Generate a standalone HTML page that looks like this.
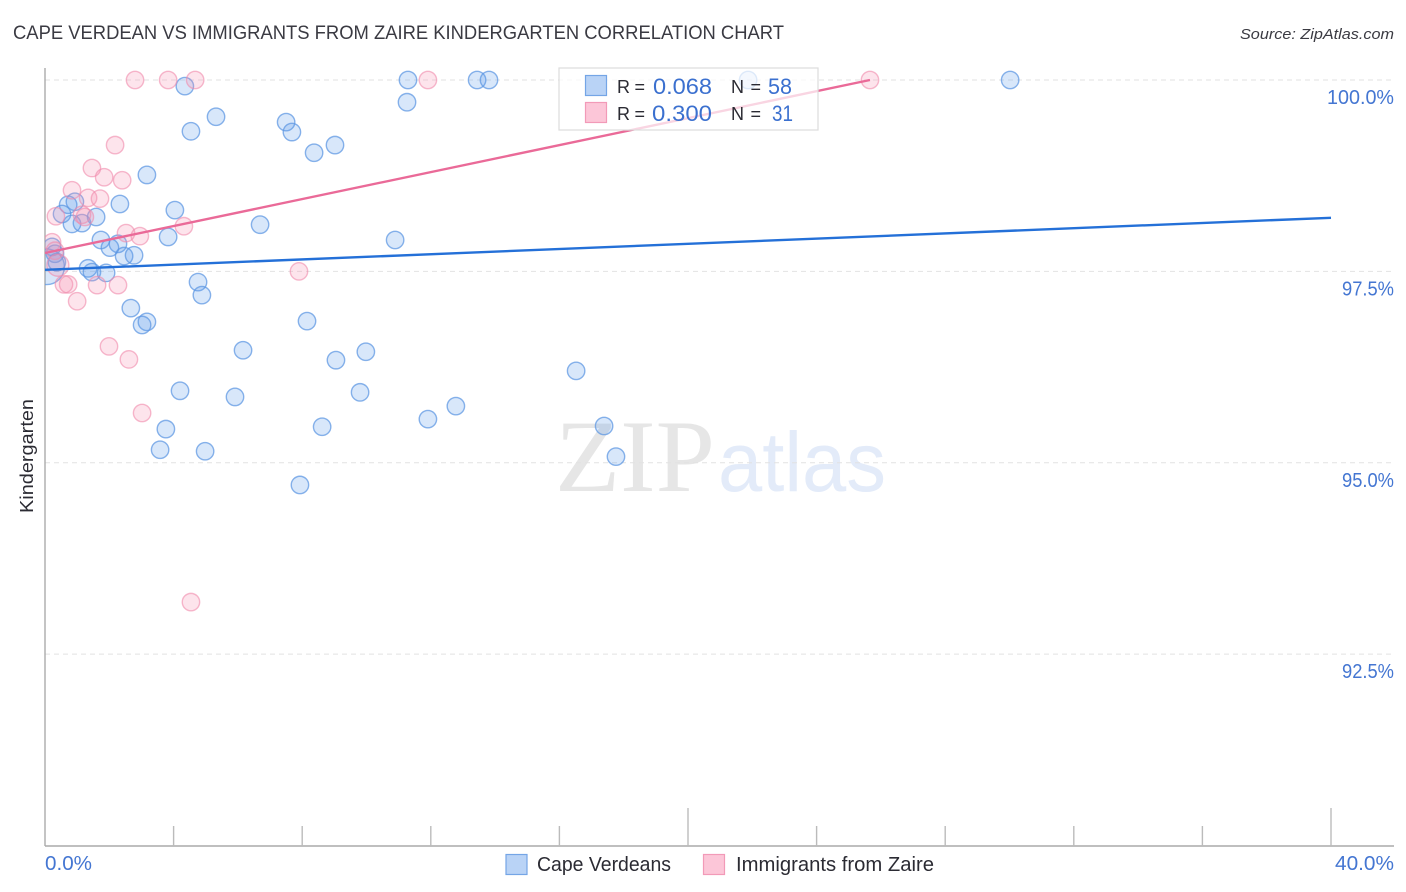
<!DOCTYPE html>
<html lang="en">
<head>
<meta charset="utf-8">
<title>Cape Verdean vs Immigrants from Zaire Kindergarten Correlation Chart</title>
<style>
html,body{margin:0;padding:0;background:#fff;width:1406px;height:892px;overflow:hidden}
svg{display:block}
text{font-family:"Liberation Sans",sans-serif}
</style>
</head>
<body>
<svg id="chart" width="1406" height="892" viewBox="0 0 1406 892" xmlns="http://www.w3.org/2000/svg">
<defs><clipPath id="plot-clip"><rect x="45" y="60" width="1349" height="786"/></clipPath></defs>
<text x="13" y="39" font-size="19" fill="#3a3a42" textLength="771" lengthAdjust="spacingAndGlyphs">CAPE VERDEAN VS IMMIGRANTS FROM ZAIRE KINDERGARTEN CORRELATION CHART</text>
<text x="1394" y="39" font-size="15" font-style="italic" fill="#3a3a42" text-anchor="end" textLength="154" lengthAdjust="spacingAndGlyphs">Source: ZipAtlas.com</text>
<g>
<text x="555" y="491" font-size="103" fill="#e6e6e6" textLength="160" lengthAdjust="spacingAndGlyphs" style="font-family:'Liberation Serif',serif">ZIP</text>
<text x="718" y="491" font-size="84" fill="#e3ebf9" textLength="168" lengthAdjust="spacingAndGlyphs">atlas</text>
</g>
<g id="grid"></g>
<g id="axes"></g>
<g id="points" clip-path="url(#plot-clip)"></g>
<g id="trends"></g>
<g>
<rect x="559" y="68" width="259" height="62" fill="#fff" fill-opacity="0.72" stroke="#dcdcdc" stroke-width="1.2"/>
<rect x="585.5" y="75.5" width="21" height="20" fill="#b9d3f6" stroke="#74a5e6" stroke-width="1.2"/>
<rect x="585.5" y="102.5" width="21" height="20" fill="#fcc6d8" stroke="#f29ab8" stroke-width="1.2"/>
<text x="617" y="93" font-size="18" fill="#2b2b33" textLength="28">R =</text>
<text x="653" y="94" font-size="22" fill="#3b70cf" textLength="59" lengthAdjust="spacingAndGlyphs">0.068</text>
<text x="731" y="93" font-size="18" fill="#2b2b33" textLength="30">N =</text>
<text x="768" y="94" font-size="22" fill="#3b70cf" textLength="24" lengthAdjust="spacingAndGlyphs">58</text>
<text x="617" y="120" font-size="18" fill="#2b2b33" textLength="28">R =</text>
<text x="652" y="121" font-size="22" fill="#3b70cf" textLength="60" lengthAdjust="spacingAndGlyphs">0.300</text>
<text x="731" y="120" font-size="18" fill="#2b2b33" textLength="30">N =</text>
<text x="772" y="121" font-size="22" fill="#3b70cf" textLength="21" lengthAdjust="spacingAndGlyphs">31</text>
</g>
<text transform="translate(33 456) rotate(-90)" font-size="18" fill="#2b2b33" text-anchor="middle" textLength="114" lengthAdjust="spacingAndGlyphs">Kindergarten</text>
<g>
<rect x="506" y="854.5" width="21" height="20" fill="#b9d3f6" stroke="#74a5e6" stroke-width="1.2"/>
<text x="537" y="871" font-size="20" fill="#2b2b33" textLength="134" lengthAdjust="spacingAndGlyphs">Cape Verdeans</text>
<rect x="703.5" y="854.5" width="21" height="20" fill="#fcc6d8" stroke="#f29ab8" stroke-width="1.2"/>
<text x="736" y="871" font-size="20" fill="#2b2b33" textLength="198" lengthAdjust="spacingAndGlyphs">Immigrants from Zaire</text>
</g>
</svg>
<script>
var blueX = [4.35,4.54,5.32,7.50,7.68,8.37,9.02,3.17,2.33,4.04,6.69,3.83,10.89,11.29,13.44,13.81,11.26,21.87,30.02,0.93,0.72,0.53,0.84,1.15,1.59,1.74,2.27,2.02,2.46,2.77,1.34,1.46,1.90,0.31,0.22,0.05,0.37,4.76,4.88,2.67,3.17,3.02,8.15,6.16,9.05,9.98,4.20,5.91,9.80,3.76,8.62,3.58,4.98,11.91,12.78,16.52,17.39,17.76,7.93];
var blueY = [99.92,99.33,99.52,99.45,99.32,99.05,99.15,98.76,98.38,98.30,98.11,97.95,97.91,100,100,100,99.71,100,100,98.41,98.37,98.25,98.12,98.13,98.21,97.91,97.86,97.81,97.70,97.71,97.54,97.49,97.48,97.73,97.82,97.56,97.62,97.36,97.19,97.02,96.84,96.80,96.85,96.47,96.34,96.45,95.94,95.86,95.92,95.44,95.47,95.17,95.15,95.57,95.74,96.20,95.48,95.08,94.71];
var blueWeight = [1,1,1,1,1,1,1,1,1,1,1,1,1,1,1,1,1,1,1,1,1,1,1,1,1,1,1,1,1,1,1,1,1,1,1,4.2,1,1,1,1,1,1,1,1,1,1,1,1,1,1,1,1,1,1,1,1,1,1,1];
var pinkX = [2.80,3.83,4.67,11.91,25.66,2.18,1.46,1.84,2.40,0.84,1.34,1.71,0.34,1.24,1.15,2.52,2.95,4.32,0.22,7.90,0.31,0.40,0.59,0.72,1.62,2.27,1.00,1.99,2.61,3.02,4.54];
var pinkY = [100,100,100,100,100,99.15,98.85,98.73,98.69,98.56,98.46,98.45,98.22,98.21,98.24,98.00,97.96,98.09,97.88,97.50,97.77,97.58,97.33,97.33,97.32,97.32,97.11,96.52,96.35,95.65,93.18];
var pinkWeight = [1,1,1,1,1,1,1,1,1,1,1,1,1,1,1,1,1,1,1,1,1,1.6,1,1,1,1,1,1,1,1,1];
var trendX = [0,40];
var blueTrendY = [97.52,98.20];
var pinkTrendX = [0,25.66];
var pinkTrendY = [97.74,100];
var yTicks = [100,97.5,95,92.5];
var yTickLabels = ["100.0%","97.5%","95.0%","92.5%"];
var xTicks = [0,4,8,12,16,20,24,28,32,36,40];
var xMajorTicks = [20,40];
var xEndLabels = ["0.0%","40.0%"];

var NS = "http://www.w3.org/2000/svg";
function xScale(v){ return 45 + v * 32.15; }
function yScale(v){ return 80 + (100 - v) * 76.55; }
function make(tag, attrs, parent, txt){
  var el = document.createElementNS(NS, tag);
  for (var k in attrs) el.setAttribute(k, attrs[k]);
  if (txt !== undefined) el.textContent = txt;
  parent.appendChild(el);
  return el;
}
var grid = document.getElementById('grid');
var axes = document.getElementById('axes');
var points = document.getElementById('points');
var trends = document.getElementById('trends');









yTicks.forEach(function(t, i){
  var y = yScale(t);
  var g = make('line', {x1:45, x2:1394, y1:y, y2:y, stroke:'#e2e2e2', 'stroke-width':1, 'stroke-dasharray':'5 4'}, grid);
  
  
  var l = make('text', {x:1394, y:y + 24, 'font-size':20, fill:'#4476d2', 'text-anchor':'end', textLength:yTickLabels[i].length > 5 ? 67 : 52, lengthAdjust:'spacingAndGlyphs'}, axes, yTickLabels[i]);
  
  
});

var yAxis = make('line', {x1:45, x2:45, y1:68, y2:846, stroke:'#aaaaaa', 'stroke-width':1.4}, axes);


var xAxis = make('line', {x1:45, x2:1394, y1:846, y2:846, stroke:'#aaaaaa', 'stroke-width':1.4}, axes);



xTicks.forEach(function(t){
  if (t === 0) return;
  var x = xScale(t);
  var top = xMajorTicks.indexOf(t) >= 0 ? 808 : 826;
  var tk = make('line', {x1:x, x2:x, y1:top, y2:846, stroke:'#bbbbbb', 'stroke-width':1.4}, axes);
  
  
});
var x0 = make('text', {x:45, y:870, 'font-size':20, fill:'#4476d2', textLength:47, lengthAdjust:'spacingAndGlyphs'}, axes, xEndLabels[0]);


var x1 = make('text', {x:1394, y:870, 'font-size':20, fill:'#4476d2', 'text-anchor':'end', textLength:59, lengthAdjust:'spacingAndGlyphs'}, axes, xEndLabels[1]);



function radius(w){ return 8.7 * Math.sqrt(w); }
blueX.forEach(function(v, i){
  var c = make('circle', {cx:xScale(v), cy:yScale(blueY[i]), r:radius(blueWeight[i]), fill:'#5b9bea', 'fill-opacity':0.24, stroke:'#5b96e2', 'stroke-opacity':0.72, 'stroke-width':1.4}, points);
  
  
});
pinkX.forEach(function(v, i){
  var c = make('circle', {cx:xScale(v), cy:yScale(pinkY[i]), r:radius(pinkWeight[i]), fill:'#f58fb0', 'fill-opacity':0.24, stroke:'#f08aac', 'stroke-opacity':0.6, 'stroke-width':1.4}, points);
  
  
});

var bt = make('line', {x1:xScale(trendX[0]), y1:yScale(blueTrendY[0]), x2:xScale(trendX[1]), y2:yScale(blueTrendY[1]), stroke:'#2470d8', 'stroke-width':2.4}, trends);


var pt = make('line', {x1:xScale(pinkTrendX[0]), y1:yScale(pinkTrendY[0]), x2:xScale(pinkTrendX[1]), y2:yScale(pinkTrendY[1]), stroke:'#ea6a98', 'stroke-width':2.4}, trends);


</script>
</body>
</html>
